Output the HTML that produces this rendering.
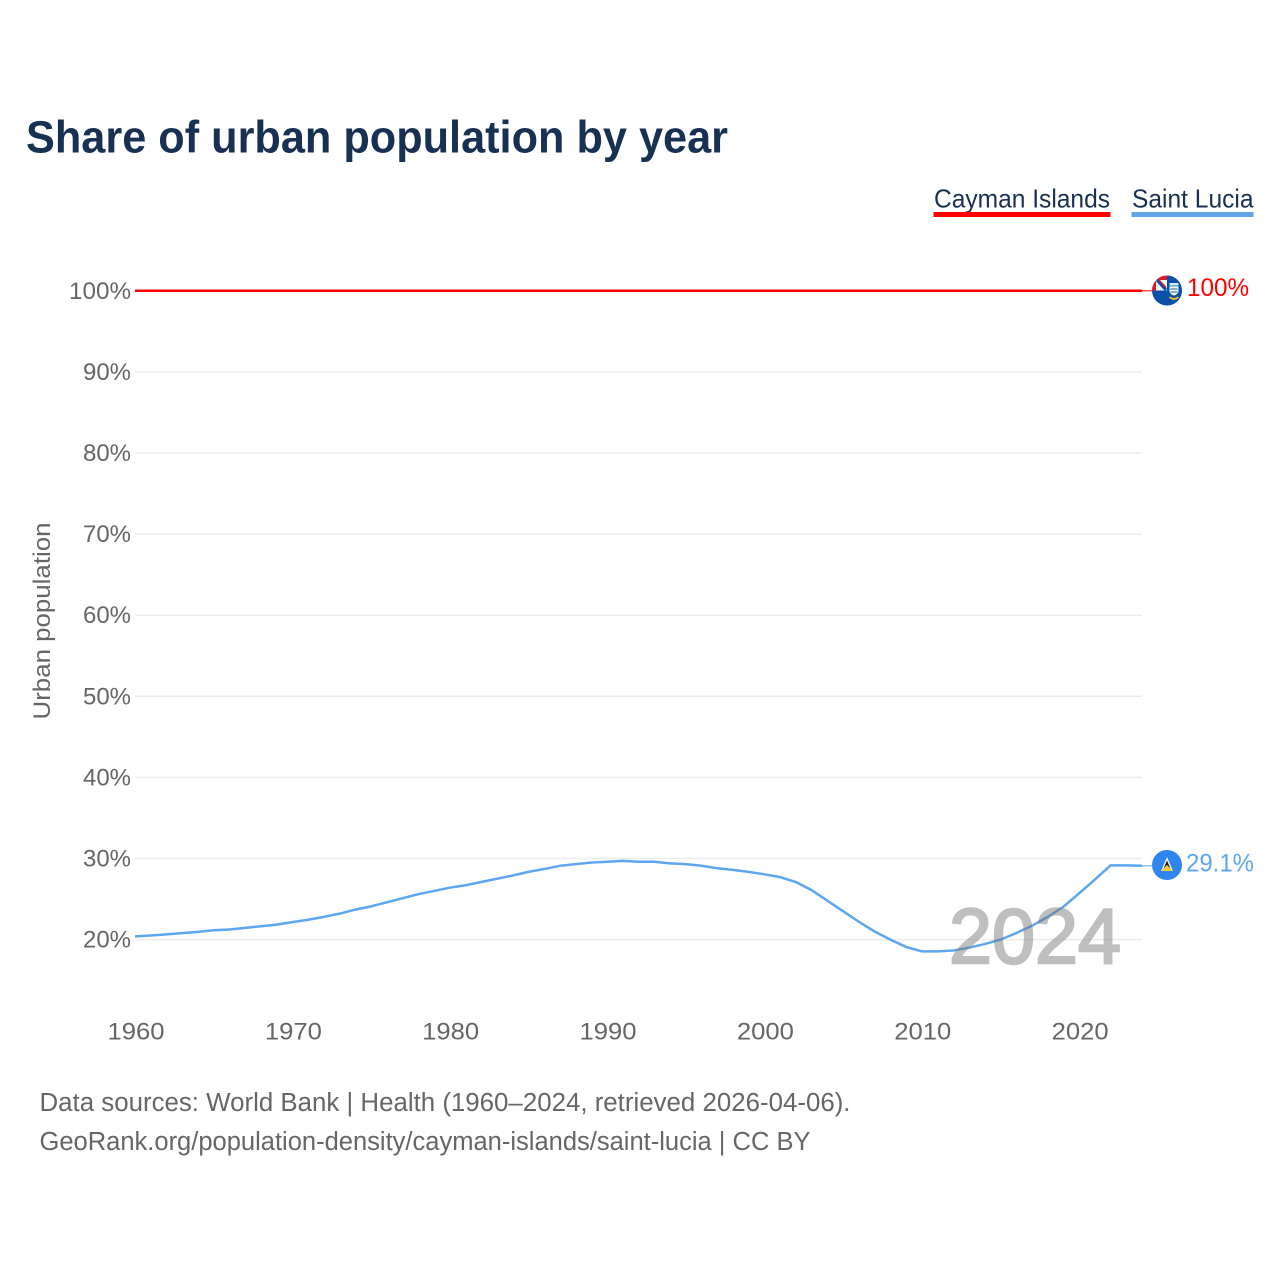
<!DOCTYPE html>
<html lang="en">
<head>
<meta charset="utf-8">
<title>Share of urban population by year</title>
<style>
html,body{margin:0;padding:0;background:#fff;width:1280px;height:1280px;overflow:hidden}
svg{display:block;font-family:"Liberation Sans",sans-serif}
</style>
</head>
<body>
<svg id="chart" width="1280" height="1280" viewBox="0 0 1280 1280" xmlns="http://www.w3.org/2000/svg">
  <text x="26" y="152.5" font-size="45" font-weight="bold" fill="#183153" textLength="702" lengthAdjust="spacingAndGlyphs">Share of urban population by year</text>

  <g>
    <text x="934" y="207.5" font-size="26" fill="#183153" textLength="176" lengthAdjust="spacingAndGlyphs">Cayman Islands</text>
    <rect x="933.5" y="212" width="177" height="5" fill="#ff0000"/>
  </g>
  <g>
    <text x="1132" y="207.5" font-size="26" fill="#183153" textLength="121.5" lengthAdjust="spacingAndGlyphs">Saint Lucia</text>
    <rect x="1131.5" y="212" width="122" height="5" fill="#62a4e8"/>
  </g>

  <text transform="translate(50,621) rotate(-90)" text-anchor="middle" font-size="24.5" fill="#666666" textLength="197" lengthAdjust="spacingAndGlyphs">Urban population</text>

  <g id="grid"></g>
  <g id="yticks"></g>
  <g id="xticks"></g>
  <g id="series"></g>

  <text x="949" y="963" font-size="78" fill="#7a7a7a" stroke="#7a7a7a" stroke-width="2.4" opacity="0.48" textLength="172" lengthAdjust="spacingAndGlyphs">2024</text>

  <g id="end-cayman">
    <g id="flag-cayman">
      <clipPath id="clip-c"><circle cx="1167" cy="290.5" r="15"/></clipPath>
      <g clip-path="url(#clip-c)">
        <rect x="1151" y="275" width="32" height="31" fill="#0a4fa8"/>
        <rect x="1151" y="275" width="16" height="15.5" fill="#f5f5f5"/>
        <rect x="1151" y="275" width="16" height="5" fill="#e0182d"/>
        <rect x="1151" y="280" width="5" height="10.5" fill="#e0182d"/>
        <path d="M1157 280 L1166 290" stroke="#0a4fa8" stroke-width="3"/>
        <path d="M1159 280 L1166 287.5" stroke="#e0182d" stroke-width="1.3"/>
        <rect x="1169.5" y="283" width="9" height="4" fill="#d8e8f0"/>
        <rect x="1169.5" y="285" width="9" height="1.5" fill="#5fb8d8"/>
        <path d="M1169.5 287 H1178.5 V292 Q1174 299 1169.5 292 Z" fill="#f6f2e4"/>
        <path d="M1170.5 289 H1177.5 M1170.5 292 H1177.5" stroke="#3c88c8" stroke-width="1.2"/>
        <path d="M1169.5 297 Q1174 301 1178.5 297" stroke="#f0c828" stroke-width="1.6" fill="none"/>
      </g>
    </g>
    <text id="label-cayman" x="1187" y="296" font-size="25" fill="#ff0000" textLength="62" lengthAdjust="spacingAndGlyphs">100%</text>
  </g>
  <g id="end-lucia">
    <g id="flag-lucia">
      <circle cx="1167" cy="865" r="15" fill="#2f86ee"/>
      <path d="M1167 857 L1173 871 H1161 Z" fill="#f5f5f5"/>
      <path d="M1167 860.5 L1171.5 871 H1162.5 Z" fill="#1c1c1c"/>
      <path d="M1167 865 L1173 871 H1161 Z" fill="#f6cf3a"/>
    </g>
    <text id="label-lucia" x="1186" y="871.5" font-size="25" fill="#5ea6ef" textLength="68" lengthAdjust="spacingAndGlyphs">29.1%</text>
  </g>

  <text x="39.5" y="1111" font-size="25.5" fill="#666666" textLength="811" lengthAdjust="spacingAndGlyphs">Data sources: World Bank | Health (1960–2024, retrieved 2026-04-06).</text>
  <text x="39.5" y="1150" font-size="25.5" fill="#666666" textLength="771" lengthAdjust="spacingAndGlyphs">GeoRank.org/population-density/cayman-islands/saint-lucia | CC BY</text>
</svg>
<script>
const startYear = 1960;
const yTickValues = [20, 30, 40, 50, 60, 70, 80, 90, 100];
const yTickLabels = ["20%", "30%", "40%", "50%", "60%", "70%", "80%", "90%", "100%"];
const xTickYears = [1960, 1970, 1980, 1990, 2000, 2010, 2020];
const xTickLabels = ["1960", "1970", "1980", "1990", "2000", "2010", "2020"];
const years = [1960,1961,1962,1963,1964,1965,1966,1967,1968,1969,1970,1971,1972,1973,1974,1975,1976,1977,1978,1979,1980,1981,1982,1983,1984,1985,1986,1987,1988,1989,1990,1991,1992,1993,1994,1995,1996,1997,1998,1999,2000,2001,2002,2003,2004,2005,2006,2007,2008,2009,2010,2011,2012,2013,2014,2015,2016,2017,2018,2019,2020,2021,2022,2023,2024];
const caymanIslands = [100,100,100,100,100,100,100,100,100,100,100,100,100,100,100,100,100,100,100,100,100,100,100,100,100,100,100,100,100,100,100,100,100,100,100,100,100,100,100,100,100,100,100,100,100,100,100,100,100,100,100,100,100,100,100,100,100,100,100,100,100,100,100,100,100];
const saintLucia = [20.4,20.5,20.65,20.8,20.95,21.15,21.25,21.45,21.65,21.85,22.15,22.45,22.8,23.2,23.7,24.1,24.6,25.1,25.6,26.0,26.4,26.7,27.1,27.5,27.9,28.35,28.7,29.1,29.3,29.5,29.6,29.7,29.6,29.6,29.4,29.3,29.1,28.8,28.6,28.35,28.05,27.7,27.1,26.1,24.8,23.5,22.2,21.0,20.0,19.1,18.55,18.55,18.65,19.0,19.45,20.0,20.8,21.7,22.8,24.05,25.7,27.4,29.15,29.15,29.1];

const NS = "http://www.w3.org/2000/svg";
function xScale(year) { return 135 + (year - startYear) * 15.735; }
function yScale(value) { return 939.6 - (value - 20) * 8.11; }
function svgEl(tag) { return document.createElementNS(NS, tag); }

const gridGroup = document.getElementById("grid");
const yTickGroup = document.getElementById("yticks");
yTickValues.forEach(function (v, i) {
  const line = svgEl("line");
  
  
  line.setAttribute("x1", 135);
  line.setAttribute("x2", 1142);
  line.setAttribute("y1", yScale(v));
  line.setAttribute("y2", yScale(v));
  line.setAttribute("stroke", "#ececec");
  line.setAttribute("stroke-width", "1.5");
  gridGroup.appendChild(line);

  const t = svgEl("text");
  
  
  t.setAttribute("x", 131);
  t.setAttribute("y", yScale(v) + 8);
  t.setAttribute("text-anchor", "end");
  t.setAttribute("font-size", "24.5");
  t.setAttribute("fill", "#666666");
  t.setAttribute("textLength", yTickLabels[i].length === 4 ? 62 : 48);
  t.setAttribute("lengthAdjust", "spacingAndGlyphs");
  t.textContent = yTickLabels[i];
  yTickGroup.appendChild(t);
});

const xTickGroup = document.getElementById("xticks");
xTickYears.forEach(function (yr, i) {
  const t = svgEl("text");
  
  
  t.setAttribute("x", xScale(yr) + 1);
  t.setAttribute("y", 1039.5);
  t.setAttribute("text-anchor", "middle");
  t.setAttribute("font-size", "24.5");
  t.setAttribute("fill", "#666666");
  t.setAttribute("textLength", 57);
  t.setAttribute("lengthAdjust", "spacingAndGlyphs");
  t.textContent = xTickLabels[i];
  xTickGroup.appendChild(t);
});

function linePath(values) {
  return values.map(function (v, i) {
    return (i ? "L" : "M") + xScale(years[i]).toFixed(2) + " " + yScale(v).toFixed(2);
  }).join(" ");
}

const seriesGroup = document.getElementById("series");

const lucia = svgEl("path");


lucia.setAttribute("d", linePath(saintLucia));
lucia.setAttribute("fill", "none");
lucia.setAttribute("stroke", "#5ea6ef");
lucia.setAttribute("stroke-width", "2.5");
seriesGroup.appendChild(lucia);

const cayman = svgEl("path");


cayman.setAttribute("d", linePath(caymanIslands));
cayman.setAttribute("fill", "none");
cayman.setAttribute("stroke", "#ff0000");
cayman.setAttribute("stroke-width", "2.5");
seriesGroup.appendChild(cayman);

const lastYear = years[years.length - 1];

const caymanLeader = svgEl("line");


caymanLeader.setAttribute("x1", xScale(lastYear));
caymanLeader.setAttribute("x2", 1152);
caymanLeader.setAttribute("y1", yScale(caymanIslands[caymanIslands.length - 1]));
caymanLeader.setAttribute("y2", yScale(caymanIslands[caymanIslands.length - 1]));
caymanLeader.setAttribute("stroke", "#ff0000");
caymanLeader.setAttribute("stroke-width", "1");
seriesGroup.appendChild(caymanLeader);

const luciaLeader = svgEl("line");


luciaLeader.setAttribute("x1", xScale(lastYear));
luciaLeader.setAttribute("x2", 1152);
luciaLeader.setAttribute("y1", yScale(saintLucia[saintLucia.length - 1]));
luciaLeader.setAttribute("y2", yScale(saintLucia[saintLucia.length - 1]));
luciaLeader.setAttribute("stroke", "#5ea6ef");
luciaLeader.setAttribute("stroke-width", "1");
seriesGroup.appendChild(luciaLeader);
</script>
</body>
</html>
